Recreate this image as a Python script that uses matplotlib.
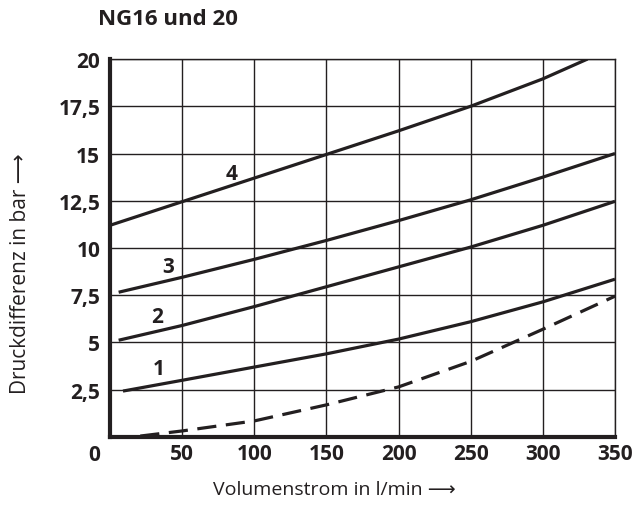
import matplotlib.pyplot as plt

plt.rcParams['font.family'] = ['Open Sans', 'DejaVu Sans']

# Curves (flow in l/min, pressure difference in bar)
x1 = [9, 50, 100, 150, 200, 250, 300, 350]
y1 = [2.43, 3.0, 3.7, 4.4, 5.18, 6.1, 7.15, 8.35]

x2 = [6, 50, 100, 150, 200, 250, 300, 350]
y2 = [5.12, 5.9, 6.9, 7.95, 9.0, 10.05, 11.2, 12.47]

x3 = [6, 50, 100, 150, 200, 250, 300, 350]
y3 = [7.66, 8.45, 9.4, 10.4, 11.45, 12.55, 13.75, 15.0]

x4 = [0, 50, 100, 150, 200, 250, 300, 331]
y4 = [11.2, 12.45, 13.7, 14.95, 16.2, 17.5, 18.95, 20.0]

xd = [21, 50, 100, 150, 200, 250, 300, 350]
yd = [0.05, 0.32, 0.85, 1.7, 2.65, 4.0, 5.7, 7.45]

curve_labels = ['1', '2', '3', '4']
label_pos = [(34, 3.6), (33, 6.35), (40, 9.02), (84, 13.94)]

x_ticks = [50, 100, 150, 200, 250, 300, 350]
y_ticks = [2.5, 5, 7.5, 10, 12.5, 15, 17.5, 20]
y_ticklabels = ['2,5', '5', '7,5', '10', '12,5', '15', '17,5', '20']

fig = plt.figure(figsize=(6.35, 5.06), dpi=100)
ax = fig.add_axes([0.1732, 0.1344, 0.7953, 0.747])

lc = '#231f20'
for xs, ys in [(x1, y1), (x2, y2), (x3, y3), (x4, y4)]:
    ax.plot(xs, ys, color=lc, lw=2.3, solid_capstyle='butt')
ax.plot(xd, yd, color=lc, lw=2.3, linestyle=(0, (6, 3)))

for lab, (lx, ly) in zip(curve_labels, label_pos):
    ax.text(lx, ly, lab, fontsize=15, fontweight='bold', ha='center', va='center', color=lc)

ax.set_xlim(0, 350)
ax.set_ylim(0, 20)
ax.set_xticks(x_ticks)
ax.set_yticks(y_ticks)
ax.set_xticklabels([str(v) for v in x_ticks], fontsize=15, fontweight='bold', color=lc)
ax.set_yticklabels(y_ticklabels, fontsize=15, fontweight='bold', color=lc)
ax.tick_params(axis='x', length=0, pad=4)
ax.tick_params(axis='y', length=0, pad=7)
ax.grid(True, color=lc, lw=1.0)
ax.set_axisbelow(True)

for s in ['top', 'right']:
    ax.spines[s].set_linewidth(1.0)
    ax.spines[s].set_color(lc)
for s in ['left', 'bottom']:
    ax.spines[s].set_linewidth(3.0)
    ax.spines[s].set_color(lc)

ax.text(-7, -0.9, '0', fontsize=15, fontweight='bold', ha='right', va='center', color=lc)

fig.text(0.265, 0.962, 'NG16 und 20', fontsize=16, fontweight='bold', ha='center', va='center', color=lc)
fig.text(0.527, 0.032, 'Volumenstrom in l/min \u27f6', fontsize=14, ha='center', va='center', color=lc)
fig.text(0.033, 0.46, 'Druckdifferenz in bar \u27f6', fontsize=15, rotation=90, ha='center', va='center', color=lc)

fig.savefig('out.png', dpi=100)
